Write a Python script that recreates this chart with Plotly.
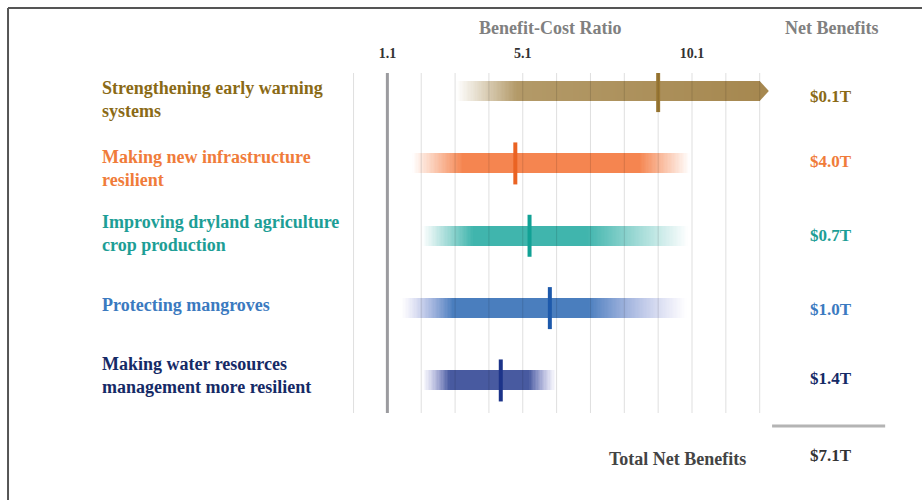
import numpy as np
import plotly.graph_objects as go

# ---------------- data ----------------
categories = [
    "Strengthening early warning<br>systems",
    "Making new infrastructure<br>resilient",
    "Improving dryland agriculture<br>crop production",
    "Protecting mangroves",
    "Making water resources<br>management more resilient",
]
bcr_low = [3.15, 1.85, 2.15, 1.55, 2.15]
bcr_high = [12.1, 10.05, 10.0, 9.95, 6.1]
bcr_mid = [9.1, 4.88, 5.3, 5.9, 4.45]
net_benefits = ["$0.1T", "$4.0T", "$0.7T", "$1.0T", "$1.4T"]
total_net = "$7.1T"
tick_vals = [1.1, 5.1, 10.1]
tick_text = ["1.1", "5.1", "10.1"]
grid_vals = [0.1 + k for k in range(13)]
open_ended = [True, False, False, False, False]

# ---------------- styles ----------------
label_colors = ["#8a6a16", "#f07c3a", "#1d9e96", "#3b7ac0", "#152a66"]
bar_c1 = [(182, 158, 110), (245, 133, 80), (64, 181, 173), (74, 126, 190), (72, 90, 160)]
bar_c2 = [(166, 136, 80), (245, 133, 80), (64, 181, 173), (74, 126, 190), (72, 90, 160)]
fade_tint = [None, None, None, (140, 140, 215), (130, 130, 205)]
fade_left = [1.8, 1.5, 1.5, 1.5, 0.8]
fade_right = [0.0, 1.5, 3.0, 2.9, 0.8]
mid_colors = ["#9c7a35", "#ea6323", "#11a195", "#1d59ab", "#1c3389"]
label_yshift = [-8, -5, 2, 3, 5]
value_yshift = [-5, 2, 0, -1, 2]
FONT = "Liberation Serif, Times New Roman, serif"

fig = go.Figure()
step = 0.04
BAR_W = 0.276

for i, cat in enumerate(categories):
    lo, hi = bcr_low[i], bcr_high[i]
    edges = np.arange(lo, hi, step)
    bases, widths, colors = [], [], []
    for a in edges:
        b = min(a + step * 1.3, hi)
        c = (a + min(a + step, hi)) / 2
        t = (c - lo) / (hi - lo)
        al = 1.0
        if fade_left[i] > 0:
            al = min(al, (c - lo) / fade_left[i])
        if fade_right[i] > 0:
            al = min(al, (hi - c) / fade_right[i])
        al = max(0.0, min(1.0, al))
        base = [bar_c1[i][k] * (1 - t) + bar_c2[i][k] * t for k in range(3)]
        if fade_tint[i] is not None:
            hue = [fade_tint[i][k] * (1 - al) + base[k] * al for k in range(3)]
        else:
            hue = base
        col = [255 * (1 - al) + hue[k] * al for k in range(3)]
        bases.append(a)
        widths.append(b - a)
        colors.append("rgb(%d,%d,%d)" % tuple(int(round(v)) for v in col))
    fig.add_trace(go.Bar(
        y=[i] * len(bases), x=widths, base=bases, orientation="h",
        width=BAR_W, marker=dict(color=colors, line=dict(width=0)),
        showlegend=False, hoverinfo="skip", name=cat.replace("<br>", " "),
    ))
    if open_ended[i]:
        fig.add_trace(go.Scatter(
            x=[hi, hi + 0.27, hi, hi], y=[i - BAR_W / 2, i, i + BAR_W / 2, i - BAR_W / 2],
            mode="lines", fill="toself", fillcolor="rgb(%d,%d,%d)" % bar_c2[i],
            line=dict(width=0), showlegend=False, hoverinfo="skip",
        ))
    fig.add_trace(go.Scatter(
        x=[bcr_mid[i]], y=[i], mode="markers",
        marker=dict(symbol="line-ns", size=30, line=dict(width=4, color=mid_colors[i])),
        showlegend=False, hovertemplate="BCR %{x}<extra></extra>",
    ))

# gridlines drawn above the bars
shapes = []
for g in grid_vals:
    shapes.append(dict(type="line", xref="x", yref="paper", x0=g, x1=g, y0=0, y1=1,
                       layer="above", line=dict(color="rgba(0,0,0,0.13)", width=1)))
shapes.append(dict(type="line", xref="x", yref="paper", x0=tick_vals[0], x1=tick_vals[0],
                   y0=0, y1=1, layer="above", line=dict(color="#9b9b9f", width=3)))
# total line
shapes.append(dict(type="line", xref="paper", yref="paper", x0=0.982, x1=1.239,
                   y0=-0.038, y1=-0.038, line=dict(color="#b4b4b4", width=3)))
# frame (top and left)
shapes.append(dict(type="line", xref="paper", yref="paper", x0=-0.7545, x1=1.33,
                   y0=1.191, y1=1.191, line=dict(color="#555555", width=2)))
shapes.append(dict(type="line", xref="paper", yref="paper", x0=-0.7545, x1=-0.7545,
                   y0=1.191, y1=-0.27, line=dict(color="#555555", width=2)))

annotations = []
for i, cat in enumerate(categories):
    annotations.append(dict(
        xref="paper", yref="y", x=-0.545, y=i, text="<b>%s</b>" % cat,
        xanchor="left", yanchor="middle", align="left", showarrow=False,
        yshift=label_yshift[i],
        font=dict(family=FONT, size=18, color=label_colors[i]),
    ))
    annotations.append(dict(
        xref="paper", yref="y", x=1.116, y=i, text="<b>%s</b>" % net_benefits[i],
        xanchor="center", yanchor="middle", showarrow=False,
        yshift=value_yshift[i],
        font=dict(family=FONT, size=17, color=label_colors[i]),
    ))
annotations.append(dict(xref="paper", yref="paper", x=0.477, y=1.132,
                        xanchor="center", yanchor="middle",
                        text="<b>Benefit-Cost Ratio</b>", showarrow=False,
                        font=dict(family=FONT, size=18, color="#808080")))
annotations.append(dict(xref="paper", yref="paper", x=1.116, y=1.132,
                        xanchor="center", yanchor="middle",
                        text="<b>Net Benefits</b>", showarrow=False,
                        font=dict(family=FONT, size=18, color="#808080")))
annotations.append(dict(xref="paper", yref="paper", x=0.766, y=-0.135,
                        xanchor="center", yanchor="middle",
                        text="<b>Total Net Benefits</b>", showarrow=False,
                        font=dict(family=FONT, size=18, color="#444444")))
annotations.append(dict(xref="paper", yref="paper", x=1.116, y=-0.124,
                        xanchor="center", yanchor="middle",
                        text="<b>%s</b>" % total_net, showarrow=False,
                        font=dict(family=FONT, size=17, color="#333333")))

fig.update_layout(
    width=922, height=500,
    margin=dict(l=340, r=142, t=73, b=87),
    paper_bgcolor="white", plot_bgcolor="white",
    barmode="overlay", bargap=0,
    shapes=shapes, annotations=annotations,
    xaxis=dict(range=[-0.3, 12.7], side="top", tickvals=tick_vals, ticktext=["<b>%s</b>" % t for t in tick_text],
               showgrid=False, zeroline=False, showline=False, ticks="",
               ticklabelstandoff=11,
               tickfont=dict(family=FONT, size=14, color="#333333")),
    yaxis=dict(range=[4.45, -0.25], showticklabels=False, showgrid=False, zeroline=False,
               showline=False, ticks=""),
)

fig.write_html("out.html")
